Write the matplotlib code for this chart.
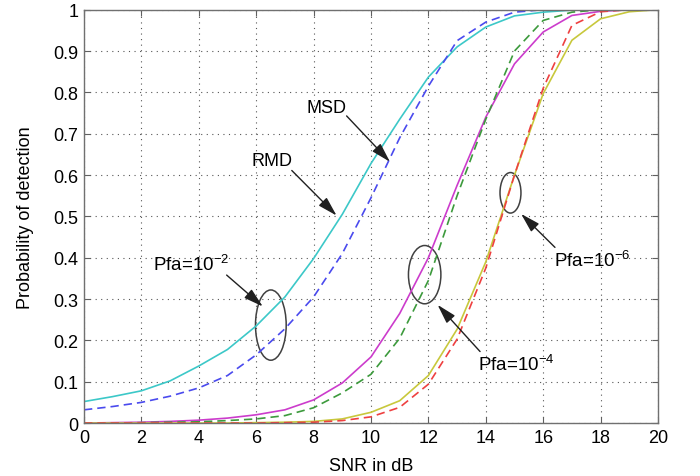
import matplotlib
matplotlib.use("Agg")
import matplotlib.pyplot as plt
from matplotlib.patches import Ellipse, ArrowStyle
import numpy as np

plt.rcParams['font.family'] = ['Liberation Sans', 'DejaVu Sans']
plt.rcParams['mathtext.fontset'] = 'custom'
plt.rcParams['mathtext.rm'] = 'Liberation Sans'
plt.rcParams['mathtext.it'] = 'Liberation Sans:italic'
plt.rcParams['mathtext.bf'] = 'Liberation Sans:bold'

snr = list(range(0, 21))
rmd_pfa2 = [0.052, 0.064, 0.078, 0.102, 0.138, 0.178, 0.235, 0.305, 0.398, 0.505, 0.628,
            0.735, 0.837, 0.910, 0.958, 0.985, 0.994, 0.999, 1.0, 1.0, 1.0]
msd_pfa2 = [0.032, 0.040, 0.050, 0.065, 0.085, 0.115, 0.165, 0.228, 0.305, 0.410, 0.545,
            0.690, 0.815, 0.925, 0.970, 0.994, 1.0, 1.0, 1.0, 1.0, 1.0]
rmd_pfa4 = [0.0, 0.001, 0.002, 0.004, 0.007, 0.012, 0.020, 0.032, 0.056, 0.097, 0.160,
            0.265, 0.400, 0.575, 0.740, 0.869, 0.946, 0.986, 0.996, 1.0, 1.0]
msd_pfa4 = [0.0, 0.0, 0.001, 0.002, 0.003, 0.006, 0.010, 0.018, 0.037, 0.073, 0.118,
            0.205, 0.345, 0.550, 0.735, 0.900, 0.974, 0.994, 1.0, 1.0, 1.0]
rmd_pfa6 = [0.0, 0.0, 0.0, 0.0, 0.0, 0.0, 0.001, 0.002, 0.004, 0.010, 0.026,
            0.054, 0.115, 0.227, 0.390, 0.600, 0.797, 0.926, 0.978, 0.995, 1.0]
msd_pfa6 = [0.0, 0.0, 0.0, 0.0, 0.0, 0.0, 0.0, 0.001, 0.002, 0.006, 0.015,
            0.038, 0.094, 0.203, 0.375, 0.600, 0.810, 0.962, 0.995, 1.0, 1.0]

xticks = list(range(0, 21, 2))
yticks = [0, 0.1, 0.2, 0.3, 0.4, 0.5, 0.6, 0.7, 0.8, 0.9, 1]
yticklabels = ['0', '0.1', '0.2', '0.3', '0.4', '0.5', '0.6', '0.7', '0.8', '0.9', '1']

fig = plt.figure(figsize=(7.0, 4.77), dpi=100)
ax = fig.add_axes([0.12, 0.111, 0.82, 0.8666])

ax.plot(snr, rmd_pfa2, color='#3cc8c8', lw=1.2, ls='-')
ax.plot(snr, msd_pfa2, color='#4a4aee', lw=1.2, ls=(0, (5, 3)))
ax.plot(snr, rmd_pfa4, color='#cc3ccc', lw=1.2, ls='-')
ax.plot(snr, msd_pfa4, color='#3c9a3c', lw=1.2, ls=(0, (5, 3)))
ax.plot(snr, rmd_pfa6, color='#c8c83c', lw=1.2, ls='-')
ax.plot(snr, msd_pfa6, color='#ee4040', lw=1.2, ls=(0, (5, 3)))

ax.set_xlim(0, 20)
ax.set_ylim(0, 1)
ax.set_xticks(xticks)
ax.set_yticks(yticks)
ax.set_yticklabels(yticklabels)
ax.tick_params(direction='in', top=True, right=True, labelsize=13, length=4,
               color='#606060', pad=4)
ax.grid(True, ls=(0, (1, 4)), color='#555555', lw=0.8)
for s in ax.spines.values():
    s.set_color('#707070')
    s.set_linewidth(1.0)

ax.set_xlabel('SNR in dB', fontsize=13, labelpad=8)
ax.set_ylabel('Probability of detection', fontsize=13, labelpad=14)

ell_kw = dict(fill=False, edgecolor='#404040', lw=1.1)
ax.add_patch(Ellipse((6.51, 0.237), 1.07, 0.17, **ell_kw))
ax.add_patch(Ellipse((11.87, 0.359), 1.13, 0.141, **ell_kw))
ax.add_patch(Ellipse((14.86, 0.557), 0.73, 0.098, **ell_kw))

head = ArrowStyle('-|>', head_length=0.7, head_width=0.2)
arr = dict(arrowstyle=head, color='#202020', lw=1.0, mutation_scale=17,
           shrinkA=0, shrinkB=0)
ax.text(8.44, 0.763, 'MSD', fontsize=13, ha='center', va='center')
ax.annotate('', xy=(10.66, 0.632), xytext=(9.15, 0.743), arrowprops=arr)
ax.text(6.55, 0.634, 'RMD', fontsize=13, ha='center', va='center')
ax.annotate('', xy=(8.80, 0.502), xytext=(7.24, 0.611), arrowprops=arr)
ax.text(3.72, 0.386, 'Pfa=10$^{-2}$', fontsize=13.5, ha='center', va='center')
ax.annotate('', xy=(6.23, 0.282), xytext=(4.97, 0.358), arrowprops=arr)
ax.text(15.06, 0.144, 'Pfa=10$^{-4}$', fontsize=13.5, ha='center', va='center')
ax.annotate('', xy=(12.32, 0.286), xytext=(13.80, 0.173), arrowprops=arr)
ax.text(17.70, 0.394, 'Pfa=10$^{-6}$', fontsize=13.5, ha='center', va='center')
ax.annotate('', xy=(15.23, 0.506), xytext=(16.41, 0.425), arrowprops=arr)

fig.savefig('out.png', dpi=100)
